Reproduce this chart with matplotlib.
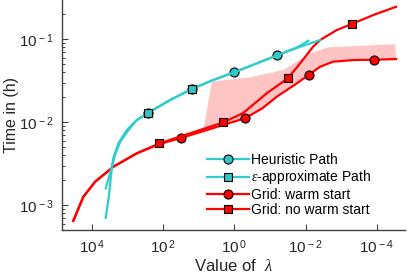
import numpy as np
import matplotlib
matplotlib.use("Agg")
import matplotlib.pyplot as plt
from matplotlib.ticker import FixedLocator, NullLocator, LogLocator, FuncFormatter

plt.rcParams['font.family'] = ['Liberation Sans', 'DejaVu Sans']
plt.rcParams['mathtext.fontset'] = 'custom'
plt.rcParams['mathtext.rm'] = 'Liberation Sans'
plt.rcParams['mathtext.it'] = 'Liberation Serif:italic'

# Heuristic path (circles)
heur_lam = [4.05e3, 3.27e3, 2.87e3, 2.48e3, 1.79e3, 1.04e3, 546, 258, 63.4, 15.6,
            4.20, 1.01, 0.261, 0.0630, 0.0162, 3.90e-3]
heur_t = [7.03e-4, 1.32e-3, 2.30e-3, 3.69e-3, 5.56e-3, 8.04e-3, 0.0106, 0.0130, 0.0185, 0.0251,
          0.0319, 0.0400, 0.0503, 0.0641, 0.0796, 0.0981]
heur_marks = [7, 9, 11, 13]

# epsilon-approximate path (squares)
eps_lam = [4.05e3, 3.06e3, 2.22e3, 1.61e3, 980, 546, 258, 63.4, 15.6, 4.20,
           1.01, 0.261, 0.0630, 0.0162, 8.32e-3]
eps_t = [1.59e-3, 2.43e-3, 4.01e-3, 5.75e-3, 7.82e-3, 0.0106, 0.0130, 0.0185, 0.0251, 0.0319,
         0.0400, 0.0503, 0.0641, 0.0810, 0.0962]
eps_marks = [6, 8]

# grid, warm start (circles)
warm_lam = [3.28e4, 1.72e4, 8.07e3, 2.48e3, 546, 126, 31.8, 0.488, 0.160, 0.0630, 0.0290,
            0.0176, 8.11e-3, 3.90e-3, 1.69e-3, 4.62e-4, 1.21e-4, 2.87e-5]
warm_t = [6.47e-4, 1.26e-3, 1.91e-3, 2.90e-3, 4.21e-3, 5.45e-3, 6.44e-3, 0.0112, 0.0148, 0.0204, 0.0255,
          0.0294, 0.0374, 0.0467, 0.0537, 0.0562, 0.0567, 0.0578]
warm_marks = [6, 7, 12, 16]

# grid, no warm start (squares)
cold_lam = [3.28e4, 1.72e4, 8.07e3, 2.48e3, 546, 126, 2.02, 0.566, 0.120, 0.0315,
            0.0142, 6.14e-3, 3.90e-3, 1.33e-3, 4.84e-4, 1.27e-4, 2.87e-5]
cold_t = [6.47e-4, 1.26e-3, 1.91e-3, 2.90e-3, 4.21e-3, 5.56e-3, 9.96e-3, 0.0129, 0.0225, 0.0338,
          0.0513, 0.0815, 0.098, 0.1294, 0.154, 0.196, 0.247]
cold_marks = [5, 6, 9, 14]

# shaded band
band_lo_lam = [7.36, 0.488, 0.160, 0.0630, 0.0290, 0.0176, 8.11e-3, 3.90e-3, 1.69e-3,
               4.62e-4, 1.21e-4, 2.87e-5]
band_lo_t = [7.92e-3, 0.0112, 0.0148, 0.0204, 0.0255, 0.0294, 0.0374, 0.0467, 0.0537,
             0.0562, 0.0567, 0.0578]
band_up_lam = [4.29, 0.360, 0.0419, 0.0176, 7.45e-3, 2.29e-3, 3.06e-5]
band_up_t = [0.0308, 0.0348, 0.0426, 0.0537, 0.0678, 0.080, 0.0871]

cyan = '#2ecccc'
mcyan = '#33c4c4'
red = '#ff0000'

fig = plt.figure(figsize=(4.07, 2.78), dpi=100)
ax = fig.add_axes([62/407, 48/278, (405-62)/407, 230/278])

px = np.concatenate([band_lo_lam, band_up_lam[::-1]])
py = np.concatenate([band_lo_t, band_up_t[::-1]])
ax.fill(px, py, color='#ffc4c4', lw=0, zorder=1)

ax.plot(warm_lam, warm_t, '-o', color=red, lw=1.6, ms=6.5, mfc=red, mec='k', mew=0.8,
        markevery=warm_marks, label='Grid: warm start', zorder=3)
ax.plot(cold_lam, cold_t, '-s', color=red, lw=1.6, ms=5.8, mfc=red, mec='k', mew=0.8,
        markevery=cold_marks, label='Grid: no warm start', zorder=3)
ax.plot(heur_lam, heur_t, '-o', color=cyan, lw=1.6, ms=6.5, mfc=mcyan, mec='k', mew=0.8,
        markevery=heur_marks, label='Heuristic Path', zorder=4)
ax.plot(eps_lam, eps_t, '-s', color=cyan, lw=1.6, ms=5.8, mfc=mcyan, mec='k', mew=0.8,
        markevery=eps_marks, label=r'$\epsilon$-approximate Path', zorder=5)

ax.set_xscale('log')
ax.set_yscale('log')
ax.set_xlim(10**4.834, 10**-4.79)
ax.set_ylim(10**-3.30, 10**-0.526)

fmt = FuncFormatter(lambda v, _: r'$10^{\,%d}$' % int(round(np.log10(v))))
ax.xaxis.set_major_locator(FixedLocator([1e4, 1e2, 1, 1e-2, 1e-4]))
ax.xaxis.set_minor_locator(NullLocator())
ax.xaxis.set_major_formatter(fmt)
ax.yaxis.set_major_locator(FixedLocator([1e-3, 1e-2, 1e-1]))
ax.yaxis.set_minor_locator(LogLocator(base=10, subs=np.arange(2, 10)))
ax.yaxis.set_minor_formatter(FuncFormatter(lambda v, _: ''))
ax.yaxis.set_major_formatter(fmt)

for s in ['top', 'right']:
    ax.spines[s].set_visible(False)
for s in ['left', 'bottom']:
    ax.spines[s].set_color('#404040')
    ax.spines[s].set_linewidth(1.0)
ax.tick_params(which='major', direction='in', length=4, width=0.8, color='#404040',
               labelsize=11, pad=6, labelcolor='#262626')
ax.tick_params(which='minor', direction='in', length=2.5, width=0.7, color='#404040')

ax.set_xlabel(r'Value of  $\lambda$', fontsize=12, color='#262626', labelpad=1)
ax.set_ylabel('Time in (h)', fontsize=11.5, color='#262626', labelpad=0)

h, l = ax.get_legend_handles_labels()
order = [2, 3, 0, 1]
ax.legend([h[i] for i in order], [l[i] for i in order], loc='upper left',
          bbox_to_anchor=(207/407, 1 - 153/278), bbox_transform=fig.transFigure,
          frameon=False, fontsize=10, handlelength=3.0, handletextpad=0.2,
          labelspacing=0.1, borderpad=0, borderaxespad=0)

fig.savefig('out.png', dpi=100)
